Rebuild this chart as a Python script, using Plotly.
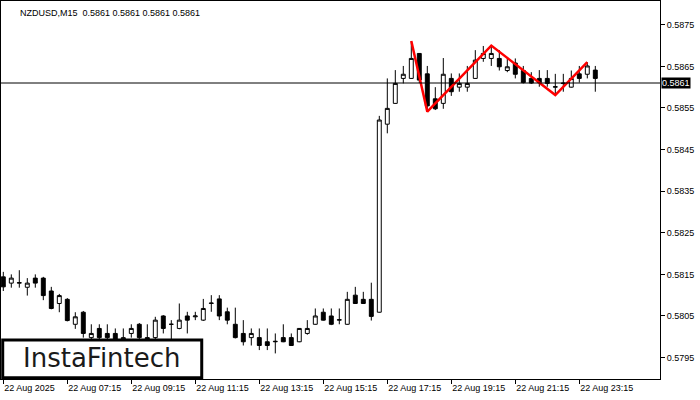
import plotly.graph_objects as go

# ---- data ----
bar_index = list(range(75))

open_ = [0.58144, 0.58129, 0.58129, 0.58119, 0.58141, 0.58141, 0.58110, 0.58080, 0.58090, 0.58030,
         0.58059, 0.57998, 0.58020, 0.58008, 0.58008, 0.57990, 0.58008, 0.58030, 0.57998, 0.57998,
         0.58050, 0.58030, 0.58020, 0.58050, 0.58048, 0.58040, 0.58080, 0.58091, 0.58060, 0.58030,
         0.58008, 0.57998, 0.57998, 0.57988, 0.57988, 0.57998, 0.57998, 0.57988, 0.58008, 0.58030,
         0.58059, 0.58050, 0.58040, 0.58030, 0.58100, 0.58090, 0.58090, 0.58059, 0.58511, 0.58561,
         0.58621, 0.58621, 0.58681, 0.58632, 0.58572, 0.58561, 0.58621, 0.58600, 0.58600, 0.58621,
         0.58669, 0.58669, 0.58669, 0.58640, 0.58658, 0.58640, 0.58621, 0.58621, 0.58621, 0.58600,
         0.58610, 0.58600, 0.58632, 0.58631, 0.58641]

high = [0.58156, 0.58150, 0.58160, 0.58141, 0.58150, 0.58144, 0.58120, 0.58103, 0.58093, 0.58059,
        0.58062, 0.58030, 0.58030, 0.58030, 0.58020, 0.58020, 0.58030, 0.58033, 0.58030, 0.58048,
        0.58052, 0.58040, 0.58080, 0.58060, 0.58060, 0.58091, 0.58100, 0.58100, 0.58070, 0.58070,
        0.58040, 0.58020, 0.58020, 0.58020, 0.58008, 0.58030, 0.58008, 0.58021, 0.58040, 0.58068,
        0.58068, 0.58068, 0.58068, 0.58108, 0.58120, 0.58108, 0.58130, 0.58531, 0.58621, 0.58641,
        0.58651, 0.58711, 0.58682, 0.58651, 0.58600, 0.58670, 0.58633, 0.58633, 0.58651, 0.58689,
        0.58699, 0.58700, 0.58689, 0.58669, 0.58669, 0.58651, 0.58636, 0.58641, 0.58641, 0.58632,
        0.58632, 0.58640, 0.58651, 0.58660, 0.58651]

low = [0.58110, 0.58118, 0.58118, 0.58099, 0.58118, 0.58088, 0.58066, 0.58059, 0.58037, 0.58019,
       0.57998, 0.57992, 0.57992, 0.57990, 0.57985, 0.57988, 0.57998, 0.57990, 0.57988, 0.57992,
       0.58008, 0.57992, 0.58018, 0.58008, 0.58040, 0.58038, 0.58060, 0.58040, 0.58030, 0.57996,
       0.57979, 0.57979, 0.57968, 0.57968, 0.57960, 0.57987, 0.57978, 0.57987, 0.58005, 0.58029,
       0.58039, 0.58028, 0.58030, 0.58029, 0.58079, 0.58079, 0.58039, 0.58058, 0.58489, 0.58560,
       0.58609, 0.58620, 0.58610, 0.58541, 0.58545, 0.58548, 0.58579, 0.58589, 0.58589, 0.58620,
       0.58661, 0.58651, 0.58640, 0.58636, 0.58621, 0.58609, 0.58608, 0.58601, 0.58601, 0.58581,
       0.58589, 0.58599, 0.58611, 0.58621, 0.58589]

close = [0.58120, 0.58141, 0.58130, 0.58129, 0.58129, 0.58099, 0.58068, 0.58099, 0.58039, 0.58048,
         0.58008, 0.58008, 0.57998, 0.57998, 0.57990, 0.57998, 0.58020, 0.57998, 0.57990, 0.58040,
         0.58020, 0.58030, 0.58040, 0.58040, 0.58050, 0.58068, 0.58081, 0.58050, 0.58040, 0.57998,
         0.57988, 0.58008, 0.57979, 0.57979, 0.57989, 0.57988, 0.57979, 0.58020, 0.58020, 0.58050,
         0.58040, 0.58030, 0.58041, 0.58090, 0.58080, 0.58080, 0.58049, 0.58521, 0.58549, 0.58609,
         0.58631, 0.58669, 0.58617, 0.58555, 0.58548, 0.58631, 0.58589, 0.58609, 0.58609, 0.58665,
         0.58681, 0.58681, 0.58649, 0.58649, 0.58631, 0.58611, 0.58610, 0.58611, 0.58609, 0.58601,
         0.58609, 0.58621, 0.58621, 0.58651, 0.58621]

pattern_idx = [51, 53, 61, 69, 73]
pattern_price = [0.58711, 0.58541, 0.58700, 0.58581, 0.58660]

current_price = 0.5861
header_text = "NZDUSD,M15  0.5861 0.5861 0.5861 0.5861"

x_tick_idx = [0, 8, 16, 24, 32, 40, 48, 56, 64, 72]
x_tick_text = ["22 Aug 2025", "22 Aug 07:15", "22 Aug 09:15", "22 Aug 11:15", "22 Aug 13:15",
               "22 Aug 15:15", "22 Aug 17:15", "22 Aug 19:15", "22 Aug 21:15", "22 Aug 23:15"]
y_tick_vals = [0.5795, 0.5805, 0.5815, 0.5825, 0.5835, 0.5845, 0.5855, 0.5865, 0.5875]
y_tick_text = ["0.5795", "0.5805", "0.5815", "0.5825", "0.5835", "0.5845", "0.5855", "0.5865", "0.5875"]

FONT = "Liberation Sans"

fig = go.Figure()
fig.add_trace(go.Candlestick(
    x=bar_index, open=open_, high=high, low=low, close=close,
    increasing=dict(line=dict(color="black", width=1), fillcolor="white"),
    decreasing=dict(line=dict(color="black", width=1), fillcolor="black"),
    whiskerwidth=0, showlegend=False, hoverinfo="skip",
))
fig.add_trace(go.Scatter(
    x=pattern_idx, y=pattern_price, mode="lines",
    line=dict(color="#ff0000", width=2.5), showlegend=False, hoverinfo="skip",
))

fig.add_shape(type="line", xref="paper", x0=0, x1=1, yref="y",
              y0=current_price, y1=current_price,
              line=dict(color="black", width=1), layer="above")

# logo box
fig.add_shape(type="rect", xref="paper", yref="paper",
              x0=0.0026, x1=0.3046, y0=0.003, y1=0.1032,
              fillcolor="white", line=dict(color="black", width=3), layer="above")
fig.add_annotation(xref="paper", yref="paper", x=0.1528, y=0.056,
                   xanchor="center", yanchor="middle",
                   text="InstaFintech", showarrow=False,
                   font=dict(family="DejaVu Sans", size=26, color="#1a1a1a"))

# header text
fig.add_annotation(xref="paper", yref="paper", x=0.026, y=0.968, xanchor="left",
                   yanchor="middle", text=header_text, showarrow=False,
                   font=dict(family=FONT, size=9, color="black"))

# current price label
fig.add_annotation(xref="paper", yref="y", x=1.0, y=current_price, xanchor="left",
                   yanchor="middle", text=f"{current_price:.4f}", showarrow=False,
                   bgcolor="black", borderpad=0, xshift=1,
                   font=dict(family=FONT, size=9, color="white"))

fig.update_layout(
    width=700, height=400,
    margin=dict(l=1, r=40, t=1, b=21),
    paper_bgcolor="white", plot_bgcolor="white",
    showlegend=False,
    xaxis=dict(range=[-0.2875, 82.0875], rangeslider=dict(visible=False),
               tickmode="array", tickvals=x_tick_idx, ticktext=x_tick_text,
               ticks="outside", ticklen=4, tickcolor="black",
               ticklabelposition="outside right",
               showgrid=False, zeroline=False, showline=True, linecolor="black",
               linewidth=1, mirror=True,
               tickfont=dict(family=FONT, size=9, color="black")),
    yaxis=dict(range=[0.578985, 0.588071], side="right",
               tickmode="array", tickvals=y_tick_vals, ticktext=y_tick_text,
               ticks="outside", ticklen=4, tickcolor="black",
               showgrid=False, zeroline=False, showline=True, linecolor="black",
               linewidth=1, mirror=True,
               tickfont=dict(family=FONT, size=9, color="black")),
)

fig.write_html("out.html", config={"displayModeBar": False},
               post_script="document.body.style.margin='0px';document.body.style.padding='0px';")
